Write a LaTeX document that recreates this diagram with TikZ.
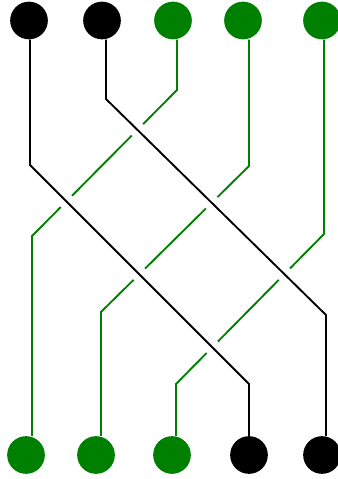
\documentclass[tikz,border=0pt]{standalone}
\usepackage{xcolor}
\usepackage{tikz}
\usetikzlibrary{positioning,backgrounds}
\definecolor{StrandGreen}{HTML}{008000}

\begin{document}
\begin{tikzpicture}[x=0.03cm,y=-0.03cm,
  bead/.style={circle,minimum size=1.13cm,inner sep=0pt},
  kbead/.style={bead,fill=black},
  gbead/.style={bead,fill=StrandGreen},
  under/.style={draw=StrandGreen,line width=1.6pt},
  over/.style={draw=black,line width=1.6pt,preaction={draw=white,line width=13.5pt}}]
\useasboundingbox (0,0) rectangle (337,479);

\foreach \n/\x/\s in {t1/29/kbead,t2/102/kbead,t3/173/gbead,t4/243/gbead,t5/322/gbead}
  \node[\s] (\n) at (\x,20.5) {};
\foreach \n/\x/\s in {b1/26/gbead,b2/96/gbead,b3/172/gbead,b4/249/kbead,b5/322/kbead}
  \node[\s] (\n) at (\x,455) {};

% bends of the five strands
\coordinate (g1a) at (177,90);  \coordinate (g1b) at (32,236);
\coordinate (g2a) at (249,166); \coordinate (g2b) at (101,312);
\coordinate (g3a) at (324,234); \coordinate (g3b) at (176,384);
\coordinate (k1a) at (30,165);  \coordinate (k1b) at (249,384);
\coordinate (k2a) at (106,99);  \coordinate (k2b) at (326,315);

\begin{scope}[on background layer]
% green strands run underneath, black ones cut gaps into them
\draw[under] (t3.south -| g1a) -- (g1a) -- (g1b) -- (b1.north -| g1b);
\draw[under] (t4.south -| g2a) -- (g2a) -- (g2b) -- (b2.north -| g2b);
\draw[under] (t5.south -| g3a) -- (g3a) -- (g3b) -- (b3.north -| g3b);
\draw[over] (t1.south -| k1a) -- (k1a) -- (k1b) -- (b4.north -| k1b);
\draw[over] (t2.south -| k2a) -- (k2a) -- (k2b) -- (b5.north -| k2b);
\end{scope}
\end{tikzpicture}
\end{document}
